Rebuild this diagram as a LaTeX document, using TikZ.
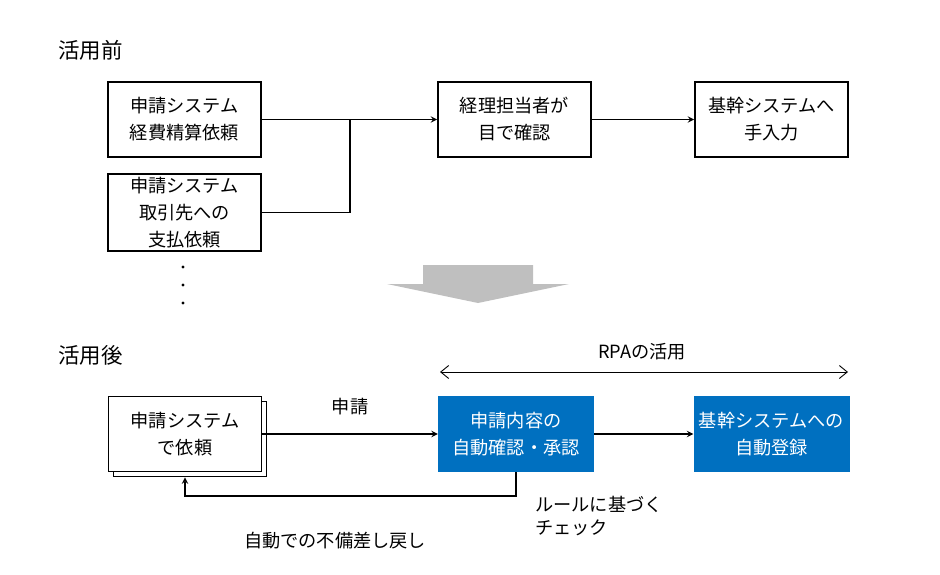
\documentclass[tikz,border=0pt]{standalone}
\usepackage{fontspec}
\setmainfont{Noto Sans CJK JP}
\usetikzlibrary{arrows.meta}

\definecolor{rpablue}{HTML}{0070C0}
\definecolor{pfeilgrau}{HTML}{BFBFBF}
\newcommand{\jtext}{\fontsize{18.2}{27}\selectfont}
\newcommand{\jtitel}{\fontsize{21.5}{26}\selectfont}

\tikzstyle{block} = [rectangle, minimum width=153pt, minimum height=75pt, text centered, align=center, draw=black, line width=1.8pt, fill=white, font=\jtext]
\tikzstyle{rpablock} = [rectangle, minimum width=156pt, minimum height=76pt, text centered, align=center, fill=rpablue, text=white, font=\jtext]
\tikzstyle{beschriftung} = [inner sep=0pt, font=\jtext]

\begin{document}
\begin{tikzpicture}[x=1pt, y=-1pt]
	\useasboundingbox (0,0) rectangle (940,575);

	% vorher
	\node (vorher) [beschriftung, anchor=west, font=\jtitel] at (58,50) {活用前};
	\node (keihi)   [block] at (184.5,119.5) {申請システム\\経費精算依頼};
	\node (shiharai) [block] at (184.5,212.5) {申請システム\\取引先への\\支払依頼};
	\node (kakunin) [block] at (514.5,119.5) {経理担当者が\\目で確認};
	\node (nyuryoku) [block] at (771.5,119.5) {基幹システムへ\\手入力};
	\coordinate (knick) at (350,119.5);

	\draw[->,>=stealth, line width=1.8pt] (keihi) -- (kakunin);
	\draw[line width=1.8pt] (shiharai) -| (knick);
	\draw[->,>=stealth, line width=1.8pt] (kakunin) -- (nyuryoku);
	\foreach \y in {267,285,303}
		\fill (183,\y) circle (1.6pt);

	% grosser Pfeil
	\fill[pfeilgrau] (423,265) -- (533,265) -- (533,284) -- (569,284) -- (478,303) -- (387,284) -- (423,284) -- cycle;

	% nachher
	\node (nachher) [beschriftung, anchor=west, font=\jtitel] at (58,355) {活用後};
	\node (rpa) [beschriftung] at (642,352) {RPAの活用};
	\coordinate (rpalinks) at (440,372);
	\coordinate (rparechts) at (848,372);
	\draw[{Straight Barb[length=8pt,width=13pt]}-{Straight Barb[length=8pt,width=13pt]}, line width=0.9pt] (rpalinks) -- (rparechts);

	\node (antrag0) [block] at (190,439) {};
	\node (antrag)  [block] at (185,434) {申請システム\\で依頼};
	\node (pruefung) [rpablock] at (516,434) {申請内容の\\自動確認・承認};
	\node (eintrag)  [rpablock] at (771.5,434) {基幹システムへの\\自動登録};
	\coordinate (zurueck) at (185,496);

	\draw[->,>=stealth, line width=1.8pt] (antrag) -- node[beschriftung, above=18pt] {申請} (pruefung);
	\draw[->,>=stealth, line width=1.8pt] (pruefung) -- (eintrag);
	\draw[->,>=stealth, line width=1.8pt] (pruefung.south) -- (pruefung.south |- zurueck) -- (zurueck) -- (zurueck |- antrag0.south);

	\node (regel) [beschriftung, anchor=west, align=left, font=\fontsize{18.2}{23}\selectfont] at (535,516.5) {ルールに基づく\\チェック};
	\node (rueck) [beschriftung] at (335,541) {自動での不備差し戻し};
\end{tikzpicture}
\end{document}
